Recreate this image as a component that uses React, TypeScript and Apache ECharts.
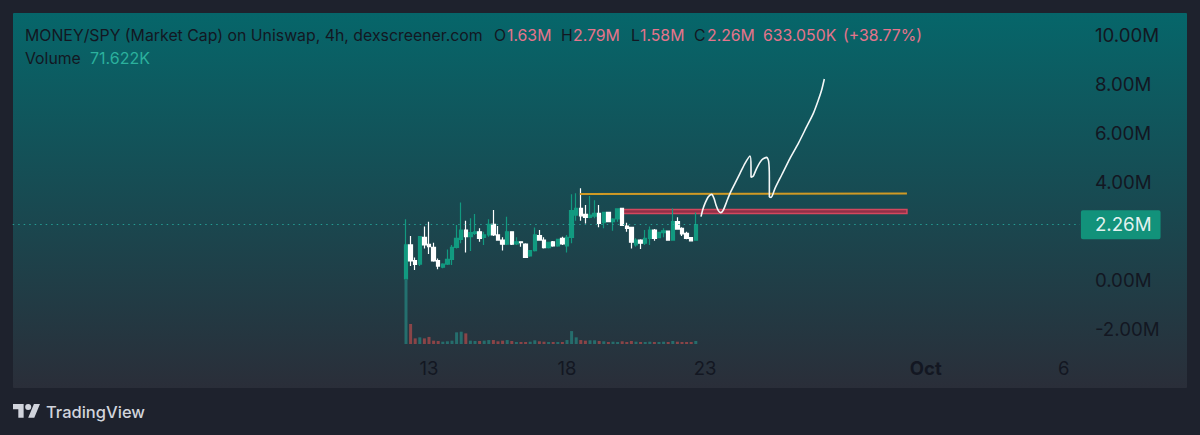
import React, { useEffect, useRef } from "react";
import * as echarts from "echarts";

const FONT = "Inter, 'Noto Sans', sans-serif";
const GREEN = "#129a80";
const WHITE = "#ffffff";
const DARK = "#131722";
const PINK = "#e5748c";

// 4h candles in millions
const opens = [0.05,1.43,0.79,0.65,1.74,1.46,1.33,0.79,0.52,0.65,0.84,1.33,1.66,2.04,1.77,1.90,1.97,1.74,1.84,2.27,1.84,1.63,1.46,1.97,1.47,1.56,1.47,0.98,1.20,1.81,1.63,1.32,1.56,1.39,1.70,1.39,1.74,2.65,2.92,2.68,2.56,2.61,2.72,2.34,2.76,2.38,2.49,2.92,2.20,2.15,1.43,1.63,1.50,1.70,2.04,1.73,1.93,2.00,1.63,2.38,2.11,1.90,1.73,1.63];
const closes = [1.43,0.78,0.64,1.77,1.43,1.36,0.78,0.57,0.65,0.84,1.33,1.70,2.04,1.77,1.93,1.97,1.70,1.84,2.27,1.84,1.63,1.46,1.97,1.46,1.56,1.52,0.92,1.20,1.84,1.63,1.32,1.54,1.39,1.66,1.47,1.74,2.83,2.92,2.62,2.56,2.65,2.72,2.31,2.76,2.38,2.49,2.90,2.23,2.11,1.54,1.63,1.50,1.70,2.04,1.70,1.94,2.01,1.63,2.38,2.08,1.88,1.70,1.60,2.26];
const lows = [0.03,0.57,0.41,0.57,1.29,1.06,0.75,0.44,0.48,0.61,0.61,1.29,1.50,1.12,1.18,1.84,1.56,1.43,1.77,1.80,1.63,1.20,1.43,1.43,1.43,1.36,0.92,0.95,1.16,1.60,1.29,1.29,1.36,1.36,1.43,1.12,1.50,2.42,2.42,2.31,2.52,2.52,2.15,2.11,2.38,2.01,2.38,2.20,1.97,1.29,1.36,1.27,1.43,1.43,1.60,1.70,1.74,1.63,1.63,2.07,1.80,1.66,1.59,1.60];
const highs = [2.48,1.80,0.92,1.80,2.18,2.38,1.52,0.88,0.68,1.25,1.43,2.24,3.16,2.42,2.52,2.69,2.11,1.97,2.48,2.86,2.20,1.74,2.58,1.97,1.74,1.56,1.50,1.22,2.14,2.04,1.74,1.56,1.59,1.66,1.77,1.84,3.50,3.54,3.74,3.06,3.43,3.26,3.06,2.79,2.76,2.52,2.92,2.95,2.34,2.15,1.70,1.66,2.04,2.18,2.08,1.97,2.11,2.00,2.92,2.56,2.15,1.97,1.74,2.76];
// volume in thousands
const volumes = [1540,480,135,160,135,170,80,72,55,65,80,280,295,255,80,72,72,80,95,95,65,80,95,72,48,48,48,55,88,65,55,48,48,48,48,95,310,160,95,80,88,88,72,65,48,55,48,65,48,72,55,48,48,55,48,48,55,48,72,55,48,48,48,72];

// bars before the first candle and empty bars in total on the 4h time scale
const leadBars = 85;
const totalBars = 232;
const xTickIndexes = [90, 120, 150, 198, 228];
const xTickLabels = ["13", "18", "23", "Oct", "6"];
const lastPrice = 2.26;

// hand-drawn marks, in [bar index, millions]
const sketch = [[149.13,2.585],[149.49,2.857],[150,3.129],[150.73,3.401],[151.45,3.496],[151.96,3.333],[152.39,3.061],[152.9,2.83],[153.41,2.748],[153.99,2.857],[154.71,3.197],[155.44,3.537],[156.52,3.945],[157.61,4.353],[158.7,4.762],[159.78,5.061],[160,4.626],[160,4.19],[160.51,4.245],[161.23,4.558],[162.32,4.898],[163.41,5.007],[163.84,4.83],[163.99,4.217],[163.99,3.401],[164.35,3.374],[165.22,3.741],[166.67,4.286],[168.48,4.966],[170.29,5.578],[172.1,6.258],[173.55,6.802],[174.64,7.347],[175.36,7.755],[175.94,8.204]];
const resistance = [[122.8,3.51],[193.9,3.53]];
const zoneStart = [132, 2.878];
const zoneEnd = [193.9, 2.714];

const headerDark = [
  ["MONEY/SPY (Market Cap) on Uniswap, 4h, dexscreener.com", 25],
  ["O", 494], ["H", 561], ["L", 631], ["C", 694],
];
const headerPink = [
  ["1.63M", 507], ["2.79M", 573], ["1.58M", 640], ["2.26M", 707],
  ["633.050K", 763], ["(+38.77%)", 843],
];

echarts.graphic.registerShape(
  "tvLogo",
  echarts.graphic.extendPath("M14 22H7V11H0V4h14v18zM28 22h-8l7.5-18h8L28 22z M24 8a4 4 0 1 1-8 0a4 4 0 1 1 8 0z", {})
);

const text = (t: string, x: number, y: number, fill: string, fontSize = 15.8, fontWeight: any = 400) => ({
  type: "text", x, y, z: 20, silent: true,
  style: { text: t, x: 0, y: 0, fill, fontSize, fontWeight, fontFamily: FONT, verticalAlign: "middle", align: "left" },
});

export default function App() {
  const ref = useRef<HTMLDivElement>(null);
  useEffect(() => {
    const chart = echarts.init(ref.current!, undefined, { renderer: "svg" });
    const categories = Array.from({ length: totalBars }, (_, i) => {
      const k = xTickIndexes.indexOf(i);
      return k >= 0 ? xTickLabels[k] : `b${i}`;
    });
    const pad = (a: any[]) => [...Array(leadBars).fill("-"), ...a];
    const candles = opens.map((o, i) => [o, closes[i], lows[i], highs[i]]);
    const volData = volumes.map((v, i) => ({
      value: v,
      itemStyle: { color: closes[i] >= opens[i] ? "rgba(38,166,154,0.5)" : "rgba(239,83,80,0.5)" },
    }));
    const left = 12.7;
    const width = 1067.2;
    chart.setOption({
      animation: false,
      backgroundColor: "#1e222d",
      grid: [
        { left, width, top: 35, height: 343 },
        { left, width, top: 244, height: 100 },
      ],
      xAxis: [
        {
          type: "category", gridIndex: 0, data: categories, boundaryGap: true,
          axisLine: { show: false }, axisTick: { show: false }, splitLine: { show: false },
          axisLabel: {
            inside: true, margin: 1,
            interval: (i: number) => xTickIndexes.includes(i),
            color: DARK, fontSize: 18.5, fontFamily: FONT,
            formatter: (v: string) => (v === "Oct" ? "{b|Oct}" : v),
            rich: { b: { fontWeight: 700, fontSize: 18.5, color: DARK, fontFamily: FONT } },
          },
        },
        { type: "category", gridIndex: 1, data: categories, show: false },
        { type: "value", gridIndex: 0, min: -0.5, max: totalBars - 0.5, show: false },
      ],
      yAxis: [
        {
          type: "value", gridIndex: 0, position: "right", min: -4, max: 10, interval: 2,
          axisLine: { show: false }, axisTick: { show: false }, splitLine: { show: false },
          axisLabel: {
            color: DARK, fontSize: 18.7, fontFamily: FONT, margin: 15, showMinLabel: false,
            formatter: (v: number) => (v === 2 ? "" : `${v.toFixed(2)}M`),
          },
        },
        { type: "value", gridIndex: 1, min: 0, max: 2400, show: false },
      ],
      series: [
        {
          type: "bar", xAxisIndex: 1, yAxisIndex: 1, data: pad(volData), barWidth: 3, silent: true,
        },
        {
          type: "candlestick", xAxisIndex: 0, yAxisIndex: 0, data: pad(candles), barWidth: 4, silent: true,
          itemStyle: { color: GREEN, color0: WHITE, borderColor: GREEN, borderColor0: WHITE, borderWidth: 1.2 },
        },
        {
          type: "line", xAxisIndex: 2, yAxisIndex: 0, data: [], silent: true, symbol: "none",
          markLine: {
            silent: true, symbol: "none", animation: false,
            lineStyle: { color: "#26a69a", type: [1.5, 4], width: 1, opacity: 0.9 },
            label: {
              show: true, position: "end", distance: 1,
              formatter: `${lastPrice.toFixed(2)}M`, color: "#ffffff", fontSize: 18.7, fontFamily: FONT,
              backgroundColor: GREEN, padding: [6, 9, 4, 14], borderRadius: 2,
            },
            data: [{ yAxis: lastPrice }],
          },
          markArea: {
            silent: true,
            itemStyle: { color: "rgba(185,40,70,0.75)", borderColor: "#d4475e", borderWidth: 1.5 },
            data: [[
              { xAxis: zoneStart[0], yAxis: zoneStart[1] },
              { xAxis: zoneEnd[0], yAxis: zoneEnd[1] },
            ]],
          },
        },
        {
          type: "line", xAxisIndex: 2, yAxisIndex: 0, data: resistance, symbol: "none", silent: true,
          lineStyle: { color: "#d09a25", width: 2 },
        },
        {
          type: "line", xAxisIndex: 2, yAxisIndex: 0, data: sketch, symbol: "none", silent: true,
          smooth: 0.25, lineStyle: { color: "#f4f7f7", width: 1.6 }, z: 5,
        },
      ],
      graphic: [
        {
          type: "rect", z: -10, silent: true,
          shape: { x: 13, y: 13, width: 1174, height: 375, r: 1 },
          style: {
            fill: new echarts.graphic.LinearGradient(0, 0, 0, 1, [
              { offset: 0, color: "#06666a" },
              { offset: 1, color: "#2a2e39" },
            ]),
          },
        },
        text(headerDark[0][0] as string, headerDark[0][1] as number, 35, DARK, 15.85),
        ...headerDark.slice(1).map(([t, x]) => text(t as string, x as number, 35, DARK)),
        ...headerPink.map(([t, x]) => text(t as string, x as number, 35, PINK)),
        text("Volume", 25, 58, DARK),
        text("71.622K", 90, 58, "#2bb19d", 16),
        { type: "tvLogo", x: 13, y: 401, scaleX: 0.76, scaleY: 0.76, z: 20, silent: true, style: { fill: "#d1d4dc" } },
        text("TradingView", 46, 412, "#d1d4dc", 16.5, 500),
      ],
    });
    return () => chart.dispose();
  }, []);
  return <div ref={ref} style={{ position: "fixed", left: 0, top: 0, width: 1200, height: 435 }} />;
}
